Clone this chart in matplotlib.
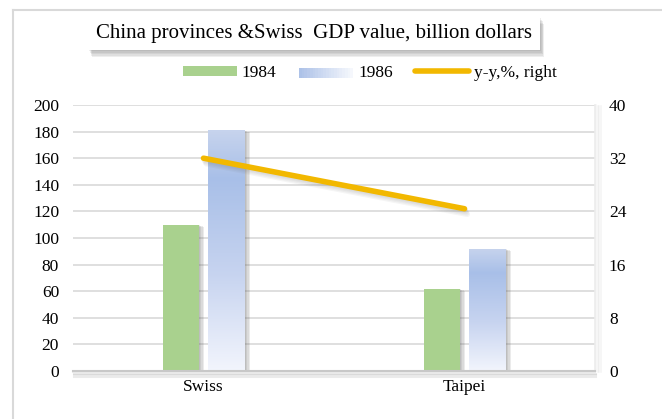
import numpy as np
import matplotlib
matplotlib.use("Agg")
import matplotlib.pyplot as plt
import matplotlib.patheffects as pe
from matplotlib.patches import Rectangle, FancyBboxPatch
from matplotlib.lines import Line2D
from matplotlib.legend_handler import HandlerBase

categories = ["Swiss", "Taipei"]
gdp_1984 = [110, 62]
gdp_1986 = [181, 92]
yoy_pct = [32.0, 24.4]
left_ticks = [0, 20, 40, 60, 80, 100, 120, 140, 160, 180, 200]
right_ticks = [0, 8, 16, 24, 32, 40]

plt.rcParams['font.family'] = ['Liberation Serif', 'DejaVu Serif']

W, H = 662, 419
fig = plt.figure(figsize=(W / 100, H / 100), dpi=100)
fig.patch.set_facecolor("white")


def soft_patch_shadow(dx, dy, steps=4, alpha=0.09):
    # several faint offset copies give a blurred look
    effs = [pe.SimplePatchShadow(offset=(dx * k / steps, dy * k / steps), shadow_rgbFace="#606060", alpha=alpha)
            for k in range(steps, 0, -1)]
    return effs + [pe.Normal()]


def soft_line_shadow(dx, dy, steps=4, alpha=0.07):
    effs = [pe.SimpleLineShadow(offset=(dx * k / steps, dy * k / steps), shadow_color="#606060", alpha=alpha)
            for k in range(steps, 0, -1)]
    return effs + [pe.Normal()]


# outer frame (only left and top edges visible)
fig.add_artist(Line2D([13 / W, 13 / W], [0, 1 - 10 / H], transform=fig.transFigure, color="#d9d9d9", lw=1.5))
fig.add_artist(Line2D([13 / W, 1], [1 - 10 / H, 1 - 10 / H], transform=fig.transFigure, color="#d9d9d9", lw=1.5))

ax = fig.add_axes([73 / W, 48 / H, 522 / W, 266 / H])
ax2 = ax.twinx()

x = np.arange(len(categories))
bw = 0.138
off = 0.088
green = "#a9d18e"
bar_shadow = soft_patch_shadow(4, -1.5, steps=4, alpha=0.12)

ax.set_ylim(0, 200)
ax.set_xlim(-0.5, 1.5)
ax.set_yticks(left_ticks)
ax.yaxis.grid(True, color="#d9d9d9", lw=1.2)
ax.set_axisbelow(True)

ax.bar(x - off, gdp_1984, width=bw, color=green, zorder=2, path_effects=bar_shadow)

# gradient for 1986 bars: light at top, stronger blue near top, fading to white at bottom
grad_cols = np.array([
    [0.78, 0.83, 0.93],
    [0.66, 0.75, 0.91],
    [0.78, 0.83, 0.94],
    [0.95, 0.96, 0.99],
])
stops = np.array([0.0, 0.2, 0.6, 1.0])
t = np.linspace(0, 1, 256)
img = np.stack([np.interp(t, stops, grad_cols[:, c]) for c in range(3)], axis=1)
img = img[:, None, :]

bars86 = ax.bar(x + off, gdp_1986, width=bw, color="none", zorder=2)
for b in bars86:
    bx, by = b.get_x(), b.get_y()
    bwid, bh = b.get_width(), b.get_height()
    sh = Rectangle((bx, by), bwid, bh, facecolor="white", edgecolor="none", zorder=1.9,
                   path_effects=bar_shadow)
    ax.add_patch(sh)
    im = ax.imshow(img, extent=[bx, bx + bwid, by, by + bh], aspect="auto", origin="upper", zorder=2.1)
    im.set_clip_path(b)

ax.set_xticks(x)
ax.set_xticklabels(categories)
for s in ["left", "top", "right"]:
    ax.spines[s].set_visible(False)
    ax2.spines[s].set_visible(False)
ax.spines["bottom"].set_color("#c8c8c8")
ax.spines["bottom"].set_linewidth(1.5)
ax.spines["bottom"].set_path_effects(soft_line_shadow(1, -4, steps=4, alpha=0.12))
ax2.spines["bottom"].set_visible(False)
ax.tick_params(axis="both", length=0, labelsize=12.5, pad=6, colors="#000000")
ax.tick_params(axis="y", pad=10)

# right-edge shadow of plot area
ax.add_artist(Line2D([1, 1], [0, 1], transform=ax.transAxes, color="#ececec", lw=1.2,
                     path_effects=soft_line_shadow(4, -1, steps=4, alpha=0.06),
                     clip_on=False))

ax2.set_ylim(0, 40)
ax2.set_yticks(right_ticks)
ax2.tick_params(axis="y", length=0, labelsize=12.5, pad=10)
ax2.plot(x, yoy_pct, color="#f2b800", lw=4, solid_capstyle="round", zorder=5,
         path_effects=soft_line_shadow(2, -4, steps=4, alpha=0.06))

# title box with shadow
tb = FancyBboxPatch((88 / W, 1 - 50 / H), 452 / W, 33 / H, boxstyle="square,pad=0",
                    transform=fig.transFigure, facecolor="white", edgecolor="none",
                    path_effects=soft_patch_shadow(3, -5, steps=5, alpha=0.1))
fig.add_artist(tb)
fig.text(314 / W, 1 - 33.5 / H, "China provinces &Swiss  GDP value, billion dollars",
         ha="center", va="center", fontsize=15)


class GradientHandler(HandlerBase):
    def create_artists(self, legend, orig_handle, xdescent, ydescent, width, height, fontsize, trans):
        n = 20
        arts = []
        cols = np.linspace(0, 1, n)
        for i, c in enumerate(cols):
            col = (1 - c) * np.array([0.68, 0.76, 0.91]) + c * np.array([0.96, 0.97, 0.99])
            r = Rectangle((xdescent + i * width / n, ydescent), width / n + 0.3, height,
                          facecolor=col, edgecolor="none", transform=trans)
            arts.append(r)
        return arts


h1 = Rectangle((0, 0), 1, 1, facecolor=green, edgecolor="none")
h2 = Rectangle((0, 0), 1, 1, facecolor="#c0cdea", edgecolor="none")
h3 = Line2D([], [], color="#f2b800", lw=4, solid_capstyle="round")
fig.legend([h1, h2, h3], ["1984", "1986", "y-y,%, right"],
           loc="center", bbox_to_anchor=(370 / W, 1 - 73 / H), ncol=3, frameon=False,
           fontsize=12.5, handlelength=3.1, handleheight=0.5, handletextpad=0.3, columnspacing=1.3,
           handler_map={h2: GradientHandler()})

fig.savefig("out.png", dpi=100)
